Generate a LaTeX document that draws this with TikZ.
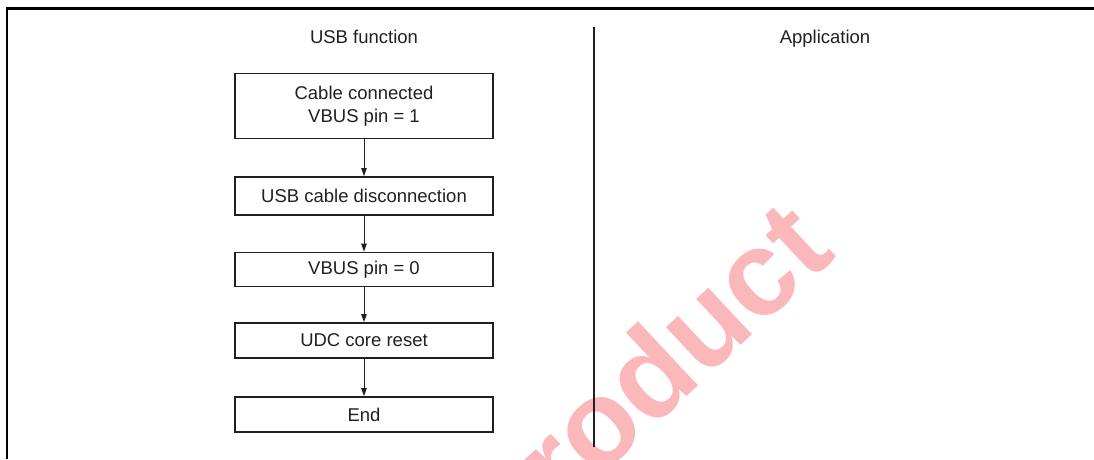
\documentclass[tikz,border=0pt]{standalone}
\usepackage{fontspec}
\setmainfont{Liberation Sans}
\usetikzlibrary{arrows.meta}
\definecolor{ink}{RGB}{35,31,32}
\definecolor{wm}{RGB}{251,184,186}
\begin{document}
\begin{tikzpicture}[x=1pt,y=-1pt,
  every node/.style={font=\fontsize{18.5}{23}\selectfont, text=ink},
  stepbox/.style={draw=ink, line width=1.8pt, minimum width=258pt, inner sep=0pt, align=center},
  link/.style={draw=ink, line width=0.9pt, -{Triangle[length=8pt,width=5.5pt]}}]
\useasboundingbox (0,0) rectangle (1094,459);
\begin{scope}
\clip (0,0) rectangle (1094,459);
\node[rotate=43, anchor=base west, text=wm, inner sep=0pt,
      font=\fontsize{121}{121}\selectfont\bfseries] (wmark) at (503,568) {Product};
\end{scope}
% frame
\draw[line width=2.2pt, black] (7,459) -- (7,8.5) -- (1094,8.5);
% divider
\draw[line width=1.3pt, ink] (594,27) -- (594,447);
% titles
\node[anchor=base] (t1) at (364,43.5) {USB function};
\node[anchor=base] (t2) at (825,43.5) {Application};
% boxes
\node[stepbox, minimum height=65pt] (b1) at (364,106) {Cable connected\\VBUS pin = 1};
\node[stepbox, minimum height=38pt] (b2) at (364,196) {USB cable disconnection};
\node[stepbox, minimum height=34pt] (b3) at (364,269.5) {VBUS pin = 0};
\node[stepbox, minimum height=35pt] (b4) at (364,340.5) {UDC core reset};
\node[stepbox, minimum height=35pt] (b5) at (364,414.5) {End};
% arrows
\draw[link] (b1) -- (b2);
\draw[link] (b2) -- (b3);
\draw[link] (b3) -- (b4);
\draw[link] (b4) -- (b5);
\end{tikzpicture}
\end{document}
